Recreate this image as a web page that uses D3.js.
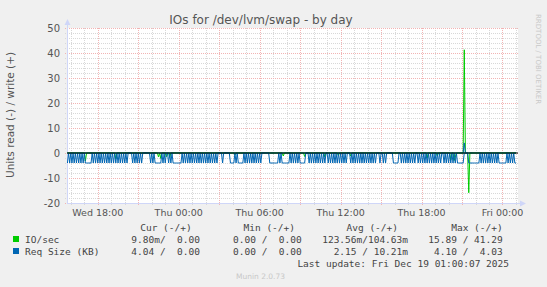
<!DOCTYPE html>
<html>
<head>
<meta charset="utf-8">
<script src="https://cdn.jsdelivr.net/npm/d3@7"></script>
<style>
  body { margin: 0; background: #f0f0f0; }
  svg { display: block; }
</style>
</head>
<body>
<div class="chart"></div>
<script>
// samples every 5 minutes, Wed Dec 17 2025 15:45 -> Fri Dec 19 01:00
const startTime = new Date(2025, 11, 17, 15, 45);
const stepMinutes = 5;

// Req Size (KB), read side (drawn negative)
const reqRead = [
  4,0,4,0,4,0,4,0,4,0, 4,0,4,0,4,0,4,4,4,4,
  4,4,0,4,0,4,0,4,0,4, 0,4,0,4,0,4,0,4,0,4,
  0,4,0,4,0,4,0,4,0,4, 0,4,0,4,0,0,0,0,4,0,
  4,0,4,0,4,0,4,0,0,0, 0,0,0,0,4,0,4,0,4,4,
  4,4,4,4,0,4,0,4,0,0, 4,0,4,0,4,4,4,4,4,4,
  4,4,0,4,0,4,0,4,0,4, 0,4,0,4,0,4,0,4,0,4,
  0,4,0,4,0,4,0,4,0,4, 0,4,0,4,0,0,0,0,4,0,
  0,0,0,0,0,4,4,4,4,0, 4,0,4,4,4,4,4,0,4,0,
  4,0,4,0,4,0,4,0,4,0, 4,0,4,0,0,0,0,0,0,0,
  4,4,4,4,4,4,4,4,0,4, 0,4,4,4,4,4,4,4,0,4,
  0,4,0,4,0,4,0,4,4,4, 4,4,0,0,0,4,0,4,0,4,
  0,4,0,4,0,4,0,4,0,4, 0,0,4,0,4,0,4,0,4,0,
  4,0,4,0,4,0,4,0,4,0, 0,0,4,0,4,0,4,0,4,0,
  4,0,4,0,4,0,4,0,4,0, 4,0,4,0,4,0,0,0,4,0,
  0,4,0,4,0,0,0,0,0,0, 4,4,4,4,4,0,0,4,0,4,
  0,4,0,4,0,4,0,4,0,4, 0,0,4,0,4,0,4,0,4,0,
  4,0,4,0,4,0,4,0,4,0, 4,0,4,0,0,4,0,4,0,4,
  0,4,0,4,0,4,0,4,4,4, 4,4,4,0,0,0,0,4,4,4,
  4,4,4,4,4,4,4,0,4,0, 4,0,4,0,4,0,4,0,4,0,
  4,0,4,0,4,4,4,4,4,4, 4,0,4,0,4,0,4,0,4,4.04
];

// IO/sec, read side (drawn negative)
const ioRead = [
  0,0,0,0,0,0,0,0,0,0, 0,0,0,0,0,0,3.2,0,0,0,
  0,0,0,0,0,0,0,0,0,0, 0,0,0,0,0,0,0,0,0,0,
  0,0,0,2.4,0,0,0,0,0,0, 0,0,0,0,0,0,0,0,0,0,
  0,0,0,0,0,0,0,0,0,0, 0,0,0,0,0,0,0,0,0,0,
  0,1.6,0,2.2,0,0,0,0,1.5,0, 0,1.8,0,0,0,0,0,0,0,0,
  0,0,0,0,0,0,0,0,0,0, 0,0,0,0,0,0,0,0,0,0,
  0,0,0,0,0,0,0,0,0,0, 0,0,0,0,0,0,0,0,0,0,
  0,0,0,0,0,0,0,0,0,0.8, 0,0,0,0,0,0,0,0,0,0,
  0,0,0,0,0,0,0,0,0,0, 0,0,0,0,0,0,0,0,0,0,
  0,0,0,0,0,0,0,0,0,0, 0,0,1.2,0,0,0,0,0,0,0,
  0,0,0,0,0,0,0,0,0,0, 0,1.4,0,0,0,0,0,0,0,0,
  0,0,0,0,0,0,0,0,0,1.6, 0,0,0,0,0,0,0,0,0,0,
  0,1.0,0,0,0,0,0,0,0,0, 0,0,1.2,0,0,0,0,0,0,0,
  0,0,0,0,0,0,0,0,0,0, 0,0,0,0,0,0,0,0,0,0,
  0,0,0,0,0,0,0,0,0,0, 0,0,0,0,0,0,0,0,0,0,
  0,0,0,0,0,0,0,0,0,0, 0,0,0,0,0,0,0,0,0,0,
  2.0,0,0,0,0,0,0,0,0,1.2, 0,0,0,0,0,0,0,0,0,0,
  0,2.8,0,0,3.0,1.6,0,0,0,0, 0,0,0,0,0,0,0,15.89,0,0,
  0,0,0,0,0,0,0,0,0,0, 0,0,0,0,0,0,0,0,0,0,
  0,0,0,0,0,0,0,0,0,0, 0,0,0,0,0,0,0,0,0,0.0098
];

// IO/sec, write side (drawn positive)
const ioWrite = [
  0,0,0,0,0,0,0,0,0,0, 0,0,0,0,0,0,0,0,0,0,
  0,0,0,0,0,0,0,0,0,0, 0,0,0,0,0,0,0,0,0,0,
  0,0,0,0,0,0,0,0,0,0, 0,0,0,0,0,0,0,0,0,0,
  0,0,0,0,0,0,0,0,0,0, 0,0,0,0,0,0,0,0,0,0,
  0,0,0,0,0,0,0,0,0,0, 0,0,0,0,0,0,0,0,0,0,
  0,0,0,0,0,0,0,0,0,0, 0,0,0,0,0,0,0,0,0,0,
  0,0,0,0,0,0,0,0,0,0, 0,0,0,0,0,0,0,0,0,0,
  0,0,0,0,0,0,0,0,0,0, 0,0,0,0,0,0,0,0,0,0,
  0,0,0,0,0,0,0,0,0,0, 0,0,0,0,0,0,0,0,0,0,
  0,0,0,0,0,0,0,0,0,0, 0,0,0,0,0,0,0,0,0,0,
  0,0,0,0,0,0,0,0,0,0, 0,0,0,0,0,0,0,0,0,0,
  0,0,0,0,0,0,0,0,0,0, 0,0,0,0,0,0,0,0,0,0,
  0,0,0,0,0,0,0,0,0,0, 0,0,0,0,0,0,0,0,0,0,
  0,0,0,0,0,0,0,0,0,0, 0,0,0,0,0,0,0,0,0,0,
  0,0,0,0,0,0,0,0,0,0, 0,0,0,0,0,0,0,0,0,0,
  0,0,0,0,0,0,0,0,0,0, 0,0,0,0,0,0,0,0,0,0,
  0,0,0,0,0,0,0,0,0,0, 0,0,0,0,0,0,0,0,0,0,
  0,0,0,0,0,0,0,0,0,0, 0,0,0,41.29,0,0,0,0,0,0,
  0,0,0,0,0,0,0,0,0,0, 0,0,0,0,0,0,0,0,0,0,
  0,0,0,0,0,0,0,0,0,0, 0,0,0,0,0,0,0,0,0,0
];

// Req Size (KB), write side (drawn positive)
const reqWrite = [
  0,0,0,0,0,0,0,0,0,0, 0,0,0,0,0,0,0,0,0,0,
  0,0,0,0,0,0,0,0,0,0, 0,0,0,0,0,0,0,0,0,0,
  0,0,0,0,0,0,0,0,0,0, 0,0,0,0,0,0,0,0,0,0,
  0,0,0,0,0,0,0,0,0,0, 0,0,0,0,0,0,0,0,0,0,
  0,0,0,0,0,0,0,0,0,0, 0,0,0,0,0,0,0,0,0,0,
  0,0,0,0,0,0,0,0,0,0, 0,0,0,0,0,0,0,0,0,0,
  0,0,0,0,0,0,0,0,0,0, 0,0,0,0,0,0,0,0,0,0,
  0,0,0,0,0,0,0,0,0,0, 0,0,0,0,0,0,0,0,0,0,
  0,0,0,0,0,0,0,0,0,0, 0,0,0,0,0,0,0,0,0,0,
  0,0,0,0,0,0,0,0,0,0, 0,0,0,0,0,0,0,0,0,0,
  0,0,0,0,0,0,0,0,0,0, 0,0,0,0,0,0,0,0,0,0,
  0,0,0,0,0,0,0,0,0,0, 0,0,0,0,0,0,0,0,0,0,
  0,0,0,0,0,0,0,0,0,0, 0,0,0,0,0,0,0,0,0,0,
  0,0,0,0,0,0,0,0,0,0, 0,0,0,0,0,0,0,0,0,0,
  0,0,0,0,0,0,0,0,0,0, 0,0,0,0,0,0,0,0,0,0,
  0,0,0,0,0,0,0,0,0,0, 0,0,0,0,0,0,0,0,0,0,
  0,0,0,0,0,0,0,0,0,0, 0,0,0,0,0,0,0,0,0,0,
  0,0,0,0,0,0,0,0,0,0, 0,0,0,4.03,0,0,0,0,0,0,
  0,0,0,0,0,0,0,0,0,0, 0,0,0,0,0,0,0,0,0,0,
  0,0,0,0,0,0,0,0,0,0, 0,0,0,0,0,0,0,0,0,0
];

const yTicks = [-20, -10, 0, 10, 20, 30, 40, 50];
const xLabelTimes = [
  new Date(2025, 11, 17, 18), new Date(2025, 11, 18, 0), new Date(2025, 11, 18, 6),
  new Date(2025, 11, 18, 12), new Date(2025, 11, 18, 18), new Date(2025, 11, 19, 0)
];

const legendNames = ["IO/sec", "Req Size (KB)"];
const legendColors = ["#00cc00", "#0066b3"];
const legendHeaders = ["Cur (-/+)", "Min (-/+)", "Avg (-/+)", "Max (-/+)"];
const legendValues = [
  ["9.80m/  0.00", "0.00 /  0.00", "123.56m/104.63m", "15.89 / 41.29"],
  ["4.04 /  0.00", "0.00 /  0.00", "2.15 / 10.21m", "4.10 /  4.03"]
];

const svg = d3.select(".chart")
  .append("svg")
    .attr("width", 547)
    .attr("height", 287);

svg.append("rect")
  .attr("width", 547)
  .attr("height", 287)
  .attr("fill", "#f0f0f0");

const plotLeft = 67, plotRight = 518, plotTop = 28, plotBottom = 203;

const xScale = d3.scaleTime()
  .domain([new Date(2025, 11, 17, 15, 43), new Date(2025, 11, 19, 1, 9)])
  .range([plotLeft, plotRight]);

const yScale = d3.scaleLinear()
  .domain([-20, 50])
  .range([plotBottom, plotTop]);

svg.append("rect")
  .attr("x", plotLeft)
  .attr("y", plotTop)
  .attr("width", plotRight - plotLeft)
  .attr("height", plotBottom - plotTop)
  .attr("fill", "white");

// grid
const minorY = d3.range(-20, 51, 2).filter(v => v % 10 !== 0);
svg.selectAll(".minor-y")
  .data(minorY)
  .join("line")
    .attr("x1", plotLeft - 2)
    .attr("x2", plotRight)
    .attr("y1", d => Math.round(yScale(d)) + 0.5)
    .attr("y2", d => Math.round(yScale(d)) + 0.5)
    .attr("stroke", "#d8d8d8")
    .attr("stroke-dasharray", "1,1");

const hourTicks = xScale.ticks(d3.timeHour.every(1));
svg.selectAll(".minor-x")
  .data(hourTicks.filter(d => d.getHours() % 3 !== 0))
  .join("line")
    .attr("x1", d => Math.round(xScale(d)) + 0.5)
    .attr("x2", d => Math.round(xScale(d)) + 0.5)
    .attr("y1", plotTop)
    .attr("y2", plotBottom + 2)
    .attr("stroke", "#d8d8d8")
    .attr("stroke-dasharray", "1,1");

svg.selectAll(".major-y")
  .data(yTicks)
  .join("line")
    .attr("x1", plotLeft - 2)
    .attr("x2", plotRight)
    .attr("y1", d => Math.round(yScale(d)) + 0.5)
    .attr("y2", d => Math.round(yScale(d)) + 0.5)
    .attr("stroke", "#f2b4b4")
    .attr("stroke-dasharray", "1,1");

svg.selectAll(".major-x")
  .data(hourTicks.filter(d => d.getHours() % 3 === 0))
  .join("line")
    .attr("x1", d => Math.round(xScale(d)) + 0.5)
    .attr("x2", d => Math.round(xScale(d)) + 0.5)
    .attr("y1", plotTop)
    .attr("y2", plotBottom + 2)
    .attr("stroke", "#f2b4b4")
    .attr("stroke-dasharray", "1,1");

// axes
svg.append("line")
  .attr("x1", plotLeft + 0.5).attr("x2", plotLeft + 0.5)
  .attr("y1", plotBottom).attr("y2", plotTop - 6)
  .attr("stroke", "#cfd6f8");
svg.append("path")
  .attr("d", `M${plotLeft - 2.5},${plotTop - 3} L${plotLeft + 3.5},${plotTop - 3} L${plotLeft + 0.5},${plotTop - 9} Z`)
  .attr("fill", "#cfd6f8");
svg.append("line")
  .attr("x1", plotLeft).attr("x2", plotRight + 4)
  .attr("y1", plotBottom + 0.5).attr("y2", plotBottom + 0.5)
  .attr("stroke", "#cfd6f8");
svg.append("path")
  .attr("d", `M${plotRight + 2},${plotBottom - 2.5} L${plotRight + 2},${plotBottom + 3.5} L${plotRight + 8},${plotBottom + 0.5} Z`)
  .attr("fill", "#cfd6f8");

// series
const times = reqRead.map((d, i) => d3.timeMinute.offset(startTime, i * stepMinutes));
const line = d3.line()
  .x((d, i) => xScale(times[i]))
  .y(d => yScale(d));

const series = [
  { values: ioRead.map(v => -v), color: legendColors[0] },
  { values: ioWrite, color: legendColors[0] },
  { values: reqRead.map(v => -v), color: legendColors[1] },
  { values: reqWrite, color: legendColors[1] }
];

svg.selectAll(".series")
  .data(series)
  .join("path")
    .attr("d", d => line(d.values))
    .attr("fill", "none")
    .attr("stroke", d => d.color)
    .attr("stroke-width", 1);

// zero line
svg.append("line")
  .attr("x1", plotLeft)
  .attr("x2", plotRight)
  .attr("y1", yScale(0))
  .attr("y2", yScale(0))
  .attr("stroke", "black");

// labels
svg.selectAll(".y-label")
  .data(yTicks)
  .join("text")
    .text(d => String(d))
    .attr("x", 60)
    .attr("y", d => yScale(d) + 3.5)
    .attr("text-anchor", "end")
    .style("font-family", "DejaVu Sans")
    .style("font-size", "10px")
    .attr("fill", "#555");

svg.selectAll(".x-label")
  .data(xLabelTimes)
  .join("text")
    .text(d => d3.timeFormat("%a %H:%M")(d))
    .attr("x", d => xScale(d))
    .attr("y", 216)
    .attr("text-anchor", "middle")
    .style("font-family", "DejaVu Sans")
    .style("font-size", "9.5px")
    .attr("fill", "#555");

svg.append("text")
  .text("IOs for /dev/lvm/swap - by day")
  .attr("x", 261)
  .attr("y", 24)
  .attr("text-anchor", "middle")
  .style("font-family", "DejaVu Sans")
  .style("font-size", "12px")
  .attr("fill", "#555");

svg.append("text")
  .text("Units read (-) / write (+)")
  .attr("transform", "translate(14, 115) rotate(-90)")
  .attr("text-anchor", "middle")
  .style("font-family", "DejaVu Sans")
  .style("font-size", "10.5px")
  .attr("fill", "#555");

svg.append("text")
  .text("RRDTOOL / TOBI OETIKER")
  .attr("transform", "translate(536, 14) rotate(90)")
  .style("font-family", "DejaVu Sans")
  .style("font-size", "7px")
  .attr("fill", "#c8c8c8");

// legend
const mono = "DejaVu Sans Mono";
const headerX = [191.7, 295, 398, 502.7];
const valueX = [200, 301.7, 408, 502.7];

svg.selectAll(".legend-header")
  .data(legendHeaders)
  .join("text")
    .text(d => d)
    .attr("x", (d, i) => headerX[i])
    .attr("y", 231)
    .attr("text-anchor", "end")
    .style("font-family", mono)
    .style("font-size", "9.5px")
    .style("white-space", "pre")
    .attr("fill", "#444");

const rows = svg.selectAll(".legend-row")
  .data(legendNames)
  .join("g")
    .attr("transform", (d, i) => `translate(0, ${243 + i * 12})`);

rows.append("rect")
  .attr("x", 13)
  .attr("y", -7)
  .attr("width", 6)
  .attr("height", 6)
  .attr("fill", (d, i) => legendColors[i]);

rows.append("text")
  .text(d => d)
  .attr("x", 25)
  .attr("y", 0)
  .style("font-family", mono)
  .style("font-size", "9.5px")
  .attr("fill", "#444");

rows.each(function(d, i) {
  d3.select(this).selectAll(".val")
    .data(legendValues[i])
    .join("text")
      .text(v => v)
      .attr("x", (v, j) => valueX[j])
      .attr("y", 0)
      .attr("text-anchor", "end")
      .style("font-family", mono)
      .style("font-size", "9.5px")
      .style("white-space", "pre")
      .attr("fill", "#444");
});

svg.append("text")
  .text("Last update: Fri Dec 19 01:00:07 2025")
  .attr("x", 509)
  .attr("y", 267)
  .attr("text-anchor", "end")
  .style("font-family", mono)
  .style("font-size", "9.5px")
  .attr("fill", "#444");

svg.append("text")
  .text("Munin 2.0.73")
  .attr("x", 260.5)
  .attr("y", 279)
  .attr("text-anchor", "middle")
  .style("font-family", "DejaVu Sans")
  .style("font-size", "7.5px")
  .attr("fill", "#c8c8c8");
</script>
</body>
</html>
